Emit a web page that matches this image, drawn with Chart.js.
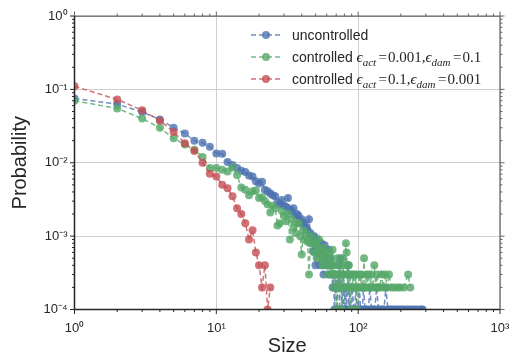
<!DOCTYPE html>
<html>
<head>
<meta charset="utf-8">
<script src="https://cdn.jsdelivr.net/npm/chart.js@4"></script>
<style>
  html, body { margin: 0; padding: 0; background: #fff; }
  #wrap { width: 510px; height: 356px; }
</style>
</head>
<body>
<div id="wrap"><canvas id="sizeChart" width="510" height="356"></canvas></div>
<script>
// Avalanche size distributions
const sizesUncontrolled = [1,2,3,4,5,6,7,8,9,10,11,12,13,14,15,16,17,18,19,20,21,22,23,24,25,26,27,28,29,30,
  31,32,33,34,35,36,37,38,39,40,41,42,43,44,45,46,47,48,49,50,51,52,53,54,55,56,57,58,59,60,
  61,62,63,64,65,66,67,68,69,70,71,72,73,74,75,76,77,78,79,80,81,82,83,
  85,86,87,88,90,91,93,95,96,98,100,102,104,107,109,112,115,118,121,124,
  128,131,135,139,143,148,152,157,162,167,172,178,185,192,199,207,215,224,233,243,254,266,279,285];
const probUncontrolled = [0.075,0.063,0.049,0.039,0.030,0.025,0.020,0.0187,0.0165,0.0134,
  0.0133,0.0102,0.0093,0.0085,0.0078,0.0075,0.0067,0.0065,0.0056,0.0052,
  0.0055,0.0043,0.0041,0.0038,0.0036,0.0035,0.0029,0.0027,0.0031,0.0026,
  0.0025,0.0033,0.0023,0.0022,0.0024,0.0019,0.0020,0.0019,0.0016,0.0017,
  0.0014,0.0015,0.0013,0.0012,0.0017,0.0011,0.0010,0.00062,0.0010,0.0004,
  0.0009,0.0008,0.0006,0.0004,0.0008,0.0006,0.0003,0.00075,0.0004,0.0005,
  0.0004,0.00065,0.0003,0.0005,0.0004,0.0002,0.0003,0.0001,0.0002,0.0003,
  0.0001,0.0002,0.0004,0.0001,0.0005,0.0002,0.0001,0.0003,0.0001,0.0002,
  0.0001,0.0002,0.0001,
  0.0004,0.0001,0.0002,0.0001,0.0001,0.0002,0.0001,0.0001,0.0002,0.0001,
  0.0001,0.0002,0.0001,0.0001,0.0002,0.0001,0.0001,0.0001,0.0002,0.0001,
  0.0001,0.0001,0.0002,0.0001,0.0001,0.0001,0.0001,0.0002,0.0001,0.0001,
  0.0001,0.0001,0.0001,0.0001,0.0001,0.0001,0.0001,0.0001,0.0001,0.0001,
  0.0001,0.0001,0.0001,0.0001];

const sizesLowAct = [1,2,3,4,5,6,7,8,9,10,11,12,13,14,15,16,17,18,19,20,21,22,23,24,25,26,27,28,29,30,
  31,32,33,34,35,36,37,38,39,40,41,42,43,44,45,46,47,48,49,50,51,52,53,54,55,56,57,58,59,60,
  61,62,63,64,65,66,67,68,69,70,71,72,73,74,75,76,77,78,79,80,81,82,83,84,85,86,87,88,89,90,91,92,
  94,95,97,98,100,102,104,106,108,110,112,114,116,118,121,124,127,130,133,136,
  139,142,146,150,155,160,165,172,180,190,197,210,225,233];
const probLowAct = [0.070,0.055,0.040,0.030,0.0215,0.0177,0.0150,0.0120,0.0085,0.0085,
  0.0080,0.0076,0.0086,0.0068,0.0046,0.0043,0.0036,0.0041,0.0042,0.0033,
  0.0034,0.0030,0.0027,0.0021,0.0026,0.0024,0.0014,0.0015,0.0022,0.0019,
  0.0016,0.0020,0.0009,0.0017,0.0013,0.0011,0.0015,0.0015,0.0010,0.00056,
  0.0012,0.0009,0.0011,0.00084,0.0003,0.0008,0.0010,0.0008,0.0006,0.0008,
  0.0005,0.0007,0.0009,0.0005,0.0006,0.0004,0.0007,0.0005,0.0006,0.0004,
  0.0003,0.0005,0.0006,0.0004,0.0003,0.00065,0.0002,0.0004,0.0003,0.0001,
  0.0005,0.0002,0.0003,0.0004,0.0002,0.0003,0.0001,0.0005,0.0002,0.0003,
  0.0004,0.0008,0.0006,0.0002,0.0003,0.0004,0.0002,0.0003,0.0001,0.0002,
  0.0003,0.0002,
  0.0003,0.0002,0.0003,0.0001,0.0002,0.0003,0.0002,0.0003,0.0002,0.0005,
  0.0002,0.0003,0.0002,0.0003,0.0002,0.0003,0.0002,0.0004,0.0002,0.0003,
  0.0002,0.0002,0.0003,0.0002,0.0003,0.0002,0.0003,0.0002,0.0002,0.0002,
  0.0002,0.0002,0.0003,0.0002];

const sizesHighAct = [1,2,3,4,5,6,7,8,9,10,11,12,13,14,15,16,17,18,19,20,21,22,23,24];
const probHighAct = [0.11,0.073,0.052,0.0375,0.0263,0.0184,0.0145,0.0100,0.0071,0.0065,
  0.0050,0.0045,0.0035,0.0024,0.0020,0.0015,0.0009,0.0012,0.0006,0.0004,
  0.0002,0.0004,0.0001,0.0002];

const seriesLabels = ['uncontrolled', 'controlled ϵ_act=0.001,ϵ_dam=0.1', 'controlled ϵ_act=0.1,ϵ_dam=0.001'];
const seriesColors = ['rgba(76,114,176,0.8)', 'rgba(85,168,104,0.8)', 'rgba(196,78,82,0.8)'];

const SUP = {'0':'⁰','1':'¹','2':'²','3':'³','4':'⁴','-':'⁻'};
function decadeLabel(value) {
  const e = Math.log10(value);
  const r = Math.round(e);
  if (Math.abs(e - r) > 1e-6) return '';
  return '10' + String(r).split('').map(c => SUP[c]).join('');
}
function isDecade(value) {
  if (!value) return false;
  const e = Math.log10(value);
  return Math.abs(e - Math.round(e)) < 1e-6;
}

function toPoints(sizes, probs) {
  return sizes.map((s, i) => ({x: s, y: probs[i]}));
}

const SANS = "'Liberation Sans', Arial, sans-serif";
const SERIF = "'Liberation Serif', 'DejaVu Serif', serif";
Chart.defaults.font.family = SANS;

// spines + matplotlib style tick marks
const framePlugin = {
  id: 'frame',
  afterDatasetsDraw(chart) {
    const {ctx, chartArea: a, scales: {x, y}} = chart;
    ctx.save();
    ctx.lineWidth = 1;
    const marks = (scale) => {
      const out = [];
      const lo = Math.round(Math.log10(scale.min)), hi = Math.round(Math.log10(scale.max));
      for (let d = lo; d <= hi; d++) {
        for (let m = 1; m <= 9; m++) {
          const v = m * Math.pow(10, d);
          if (v > scale.max * 1.0001) break;
          out.push({p: scale.getPixelForValue(v), len: m === 1 ? 4.5 : 2.5});
        }
      }
      return out;
    };
    const xm = marks(x), ym = marks(y);
    ctx.strokeStyle = '#262626';
    ctx.beginPath();
    xm.forEach(t => { ctx.moveTo(t.p, a.bottom); ctx.lineTo(t.p, a.bottom + t.len); });
    ym.forEach(t => { ctx.moveTo(a.left, t.p); ctx.lineTo(a.left - t.len, t.p); });
    ctx.stroke();
    ctx.strokeStyle = '#666666';
    ctx.beginPath();
    xm.forEach(t => { ctx.moveTo(t.p, a.top); ctx.lineTo(t.p, a.top - t.len); });
    ym.forEach(t => { ctx.moveTo(a.right, t.p); ctx.lineTo(a.right + t.len, t.p); });
    ctx.stroke();
    // spines
    ctx.lineWidth = 1.25;
    ctx.strokeStyle = '#666666';
    ctx.beginPath();
    ctx.moveTo(a.left, a.top); ctx.lineTo(a.right, a.top); ctx.lineTo(a.right, a.bottom);
    ctx.stroke();
    ctx.lineWidth = 1.5;
    ctx.strokeStyle = '#262626';
    ctx.beginPath();
    ctx.moveTo(a.left, a.top); ctx.lineTo(a.left, a.bottom); ctx.lineTo(a.right, a.bottom);
    ctx.stroke();
    ctx.restore();
  }
};

// legend with mathtext-like epsilon subscripts
function drawLabel(ctx, text, x, base) {
  const k = text.indexOf('ϵ');
  const plain = k < 0 ? text : text.slice(0, k);
  ctx.font = '14px ' + SANS;
  ctx.fillText(plain, x, base);
  x += ctx.measureText(plain).width;
  if (k < 0) return;
  const math = text.slice(k);
  let i = 0;
  while (i < math.length) {
    const c = math[i];
    if (c === '_') {
      let j = i + 1;
      while (j < math.length && /[a-z]/.test(math[j])) j++;
      const sub = math.slice(i + 1, j);
      ctx.font = 'italic 11px ' + SERIF;
      ctx.fillText(sub, x, base + 3.5);
      x += ctx.measureText(sub).width;
      i = j;
      continue;
    }
    if (c === 'ϵ') {
      ctx.font = 'italic 15px ' + SERIF;
      ctx.fillText(c, x, base);
      x += ctx.measureText(c).width;
    } else if (c === '=') {
      ctx.font = '15px ' + SERIF;
      x += 2.5;
      ctx.fillText(c, x, base);
      x += ctx.measureText(c).width + 1;
    } else {
      ctx.font = '15px ' + SERIF;
      ctx.fillText(c, x, base);
      x += ctx.measureText(c).width;
    }
    i++;
  }
}

const legendPlugin = {
  id: 'mathLegend',
  afterDraw(chart) {
    const {ctx, chartArea: a} = chart;
    const x0 = a.right - 249, x1 = a.right - 219, textX = a.right - 208;
    ctx.save();
    chart.data.datasets.forEach((ds, i) => {
      const yy = a.top + 19 + i * 22;
      ctx.strokeStyle = ds.borderColor;
      ctx.lineWidth = ds.borderWidth;
      ctx.setLineDash(ds.borderDash);
      ctx.beginPath();
      ctx.moveTo(x0, yy); ctx.lineTo(x1, yy);
      ctx.stroke();
      ctx.setLineDash([]);
      ctx.fillStyle = ds.pointBackgroundColor;
      ctx.beginPath();
      ctx.arc((x0 + x1) / 2, yy, ds.pointRadius, 0, Math.PI * 2);
      ctx.fill();
      ctx.fillStyle = '#262626';
      ctx.textBaseline = 'alphabetic';
      ctx.textAlign = 'left';
      drawLabel(ctx, ds.label, textX, yy + 5);
    });
    ctx.restore();
  }
};

function makeDataset(i, sizes, probs, order) {
  return {
    label: seriesLabels[i],
    data: toPoints(sizes, probs),
    borderColor: seriesColors[i],
    backgroundColor: seriesColors[i],
    pointBackgroundColor: seriesColors[i],
    pointBorderWidth: 0,
    pointRadius: 4,
    borderWidth: 1.5,
    borderDash: [5, 3],
    tension: 0,
    order: order
  };
}

const tickFont = {size: 13};
new Chart(document.getElementById('sizeChart'), {
  type: 'line',
  data: {
    datasets: [
      makeDataset(0, sizesUncontrolled, probUncontrolled, 3),
      makeDataset(1, sizesLowAct, probLowAct, 2),
      makeDataset(2, sizesHighAct, probHighAct, 1)
    ]
  },
  options: {
    responsive: false,
    animation: false,
    events: [],
    devicePixelRatio: 1,
    layout: {padding: {top: 16, right: 10, left: 0, bottom: 0}},
    plugins: {legend: {display: false}, tooltip: {enabled: false}},
    scales: {
      x: {
        type: 'logarithmic',
        min: 1,
        max: 1000,
        afterFit(scale) {
          scale.height = 46.5;
          scale.paddingLeft = 0;
          scale.paddingRight = 0;
        },
        border: {display: false},
        grid: {
          drawTicks: false,
          lineWidth: 1,
          color: ctx => isDecade(ctx.tick && ctx.tick.value) ? '#cfcfcf' : 'rgba(0,0,0,0)'
        },
        ticks: {
          autoSkip: false,
          maxRotation: 0,
          padding: 11,
          color: '#262626',
          font: tickFont,
          callback: value => decadeLabel(value)
        },
        title: {display: true, text: 'Size', color: '#262626', font: {size: 20, lineHeight: 1}, padding: {top: 0, bottom: 0}}
      },
      y: {
        type: 'logarithmic',
        min: 0.0001,
        max: 1,
        afterFit(scale) {
          scale.width = 74.5;
          scale.paddingTop = 0;
          scale.paddingBottom = 0;
        },
        border: {display: false},
        grid: {
          drawTicks: false,
          lineWidth: 1,
          color: ctx => isDecade(ctx.tick && ctx.tick.value) ? '#cfcfcf' : 'rgba(0,0,0,0)'
        },
        ticks: {
          autoSkip: false,
          padding: 7,
          color: '#262626',
          font: tickFont,
          callback: value => decadeLabel(value)
        },
        title: {display: true, text: 'Probability', color: '#262626', font: {size: 20, lineHeight: 1}, padding: {top: 10, bottom: 0}}
      }
    }
  },
  plugins: [framePlugin, legendPlugin]
});
</script>
</body>
</html>
